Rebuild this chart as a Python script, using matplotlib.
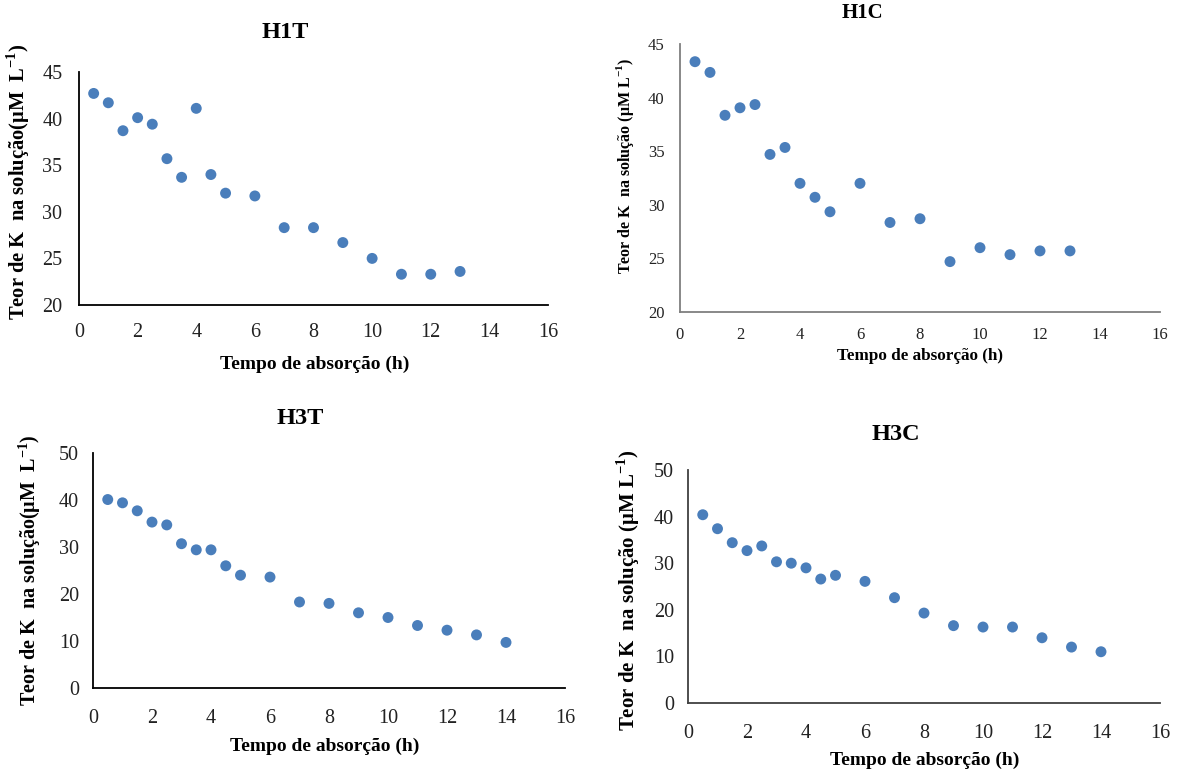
import matplotlib
matplotlib.use("Agg")
import matplotlib.pyplot as plt

plt.rcParams['font.family'] = ['Liberation Serif', 'DejaVu Serif']
plt.rcParams['mathtext.fontset'] = 'custom'
plt.rcParams['mathtext.rm'] = 'Liberation Serif'
plt.rcParams['mathtext.bf'] = 'Liberation Serif:bold'

x_h1 = [0.5, 1, 1.5, 2, 2.5, 3, 3.5, 4, 4.5, 5, 6, 7, 8, 9, 10, 11, 12, 13]
y_h1t = [42.7, 41.7, 38.7, 40.1, 39.4, 35.7, 33.7, 41.1, 34.0, 32.0, 31.7, 28.3, 28.3, 26.7, 25.0, 23.3, 23.3, 23.6]
y_h1c = [43.35, 42.35, 38.35, 39.05, 39.35, 34.7, 35.35, 32.0, 30.7, 29.35, 32.0, 28.35, 28.7, 24.7, 26.0, 25.35, 25.7, 25.7]
x_h3 = [0.5, 1, 1.5, 2, 2.5, 3, 3.5, 4, 4.5, 5, 6, 7, 8, 9, 10, 11, 12, 13, 14]
y_h3t = [40.1, 39.4, 37.7, 35.3, 34.7, 30.7, 29.4, 29.4, 26.0, 24.0, 23.6, 18.3, 18.0, 16.0, 15.0, 13.3, 12.3, 11.3, 9.7]
y_h3c = [40.4, 37.4, 34.4, 32.7, 33.7, 30.3, 30.0, 29.0, 26.6, 27.4, 26.1, 22.6, 19.3, 16.6, 16.3, 16.3, 14.0, 12.0, 11.0]

titles = ['H1T', 'H1C', 'H3T', 'H3C']
xticks = [0, 2, 4, 6, 8, 10, 12, 14, 16]
yticks_h1 = [20, 25, 30, 35, 40, 45]
yticks_h3 = [0, 10, 20, 30, 40, 50]
xlabel = 'Tempo de absorção (h)'
ylabel_a = r'Teor de K  na solução(μM  L$^{\mathbf{-1}}$)'
ylabel_b = r'Teor de K  na solução (μM L$^{\mathbf{-1}}$)'

W, H = 1179, 776
fig = plt.figure(figsize=(W / 100, H / 100), dpi=100)
COLOR = '#4a7ebb'

def ax_px(l, t, r, b):
    return fig.add_axes([l / W, (H - b) / H, (r - l) / W, (b - t) / H])

def ftext(x, y, s, **kw):
    fig.text(x / W, (H - y) / H, s, ha='center', va='center', **kw)

panels = [
    # axes box, xs, ys, yticks, title pos, xlabel pos, ylabel pos, ylabel,
    # sizes (tick, xlabel, ylabel, title), pads (x, y), spine colour
    ((79, 72, 548, 305), x_h1, y_h1t, yticks_h1, (285, 32), (315, 364), (18, 182), ylabel_a,
     (14.5, 14, 14.8, 17.5), (13, 12), '#000000'),
    ((680, 44, 1160, 312), x_h1, y_h1c, yticks_h1, (862, 13), (920, 356), (625, 166), ylabel_b,
     (12, 12.3, 11.5, 15), (11, 11), '#7f7f7f'),
    ((93, 453, 565, 688), x_h3, y_h3t, yticks_h3, (300, 418), (325, 746), (30, 570), ylabel_a,
     (14.5, 14, 14.5, 17.5), (15, 10), '#000000'),
    ((688, 470, 1160, 703), x_h3, y_h3c, yticks_h3, (896, 435), (925, 760), (628, 590), ylabel_b,
     (14.5, 14, 15, 17.5), (15, 10), '#404040'),
]

for (box, xs, ys, yt, tpos, xlpos, ylpos, ylab, sizes, pads, spc), title in zip(panels, titles):
    ax = ax_px(*box)
    ax.scatter(xs, ys, s=62, color=COLOR, edgecolors='none', zorder=3, clip_on=False)
    ax.set_xlim(0, 16)
    ax.set_ylim(yt[0], yt[-1])
    ax.set_xticks(xticks)
    ax.set_yticks(yt)
    for sp in ('top', 'right'):
        ax.spines[sp].set_visible(False)
    for sp in ('left', 'bottom'):
        ax.spines[sp].set_color(spc)
        ax.spines[sp].set_linewidth(1.3)
    ax.tick_params(length=0, labelsize=sizes[0], colors='#222222')
    ax.tick_params(axis='x', pad=pads[0])
    ax.tick_params(axis='y', pad=pads[1])
    ftext(*tpos, title, fontsize=sizes[3], fontweight='bold')
    ftext(*xlpos, xlabel, fontsize=sizes[1], fontweight='bold')
    ftext(*ylpos, ylab, fontsize=sizes[2], fontweight='bold', rotation=90)

fig.savefig('out.png', dpi=100)
